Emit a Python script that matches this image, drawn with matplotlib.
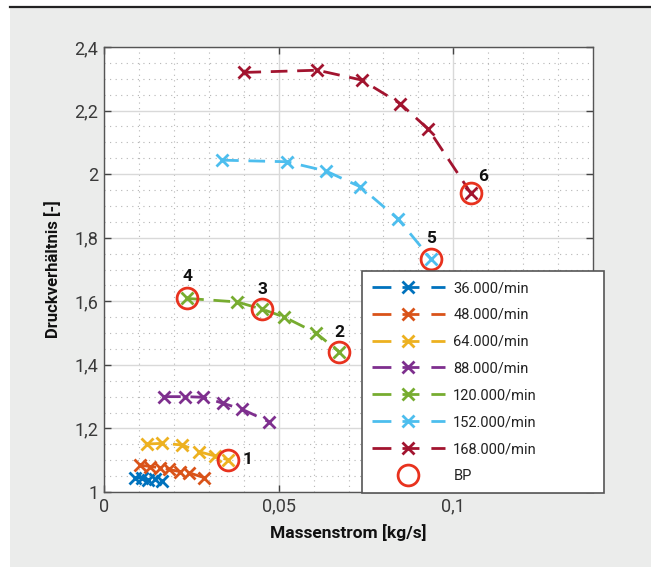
import matplotlib
matplotlib.use("Agg")
import matplotlib.pyplot as plt
from matplotlib.ticker import FuncFormatter, MultipleLocator
from matplotlib.patches import Rectangle
from matplotlib.lines import Line2D

plt.rcParams['font.family'] = ['Roboto', 'DejaVu Sans']

# ---- data ----
series_labels = ['36.000/min', '48.000/min', '64.000/min', '88.000/min',
                 '120.000/min', '152.000/min', '168.000/min']
colors = ['#0072BD', '#D95319', '#EDB120', '#7E2F8E', '#77AC30', '#4DBEEE', '#A2142F']

x_36 = [0.0088, 0.0108, 0.0125, 0.0145, 0.0166]
y_36 = [1.043, 1.045, 1.038, 1.040, 1.035]
x_48 = [0.0102, 0.0132, 0.0159, 0.0185, 0.0218, 0.0242, 0.0287]
y_48 = [1.085, 1.080, 1.077, 1.071, 1.064, 1.061, 1.045]
x_64 = [0.0122, 0.0166, 0.0224, 0.0271, 0.0319, 0.0356]
y_64 = [1.151, 1.153, 1.148, 1.127, 1.113, 1.101]
x_88 = [0.0172, 0.0233, 0.0284, 0.0341, 0.0396, 0.0472]
y_88 = [1.300, 1.300, 1.298, 1.279, 1.260, 1.221]
x_120 = [0.0238, 0.0381, 0.0453, 0.0515, 0.0606, 0.0673]
y_120 = [1.609, 1.598, 1.575, 1.551, 1.501, 1.441]
x_152 = [0.0338, 0.0523, 0.0635, 0.0734, 0.0843, 0.0937]
y_152 = [2.044, 2.039, 2.010, 1.960, 1.858, 1.732]
x_168 = [0.0402, 0.0611, 0.0738, 0.0848, 0.0929, 0.1050]
y_168 = [2.320, 2.327, 2.296, 2.222, 2.141, 1.941]

bp_x = [0.0356, 0.0673, 0.0453, 0.0238, 0.0937, 0.1050]
bp_y = [1.101, 1.441, 1.575, 1.609, 1.732, 1.941]
bp_labels = ['1', '2', '3', '4', '5', '6']

xs = [x_36, x_48, x_64, x_88, x_120, x_152, x_168]
ys = [y_36, y_48, y_64, y_88, y_120, y_152, y_168]

# ---- figure ----
W, H = 651, 567
fig = plt.figure(figsize=(W / 100, H / 100), dpi=100)
fig.patch.set_facecolor('white')
fig.patches.append(Rectangle((10 / W, 0), 1 - 10 / W, 1 - 8 / H, transform=fig.transFigure,
                             facecolor='#EBECEB', edgecolor='none', zorder=-10))
fig.lines.append(Line2D([10 / W, 1], [1 - 7.2 / H, 1 - 7.2 / H], transform=fig.transFigure,
                        color='#222222', lw=1.6, zorder=-5))

ax = fig.add_axes([104 / W, 1 - 492 / H, 489 / W, 445 / H])
ax.set_zorder(1)
ax.set_facecolor('white')

for xv, yv, c, lab in zip(xs, ys, colors, series_labels):
    ax.plot(xv, yv, linestyle=(0, (6, 3.5)), color=c, lw=2.0, marker='x',
            markersize=9, markeredgewidth=2.0, label=lab, zorder=3)

ax.plot(bp_x, bp_y, linestyle='none', marker='o', markersize=15, markerfacecolor='none',
        markeredgecolor='#E8321E', markeredgewidth=2.0, label='BP', zorder=4)

offsets = [(14, 0), (0, 14), (0, 14), (0, 16), (0, 15), (9, 12)]
for bx, by, bl, off in zip(bp_x, bp_y, bp_labels, offsets):
    ax.annotate(bl, (bx, by), xytext=off, textcoords='offset points',
                ha='center', va='center', fontsize=12.5, fontweight='bold', color='#111111')

ax.set_xlim(0, 0.14)
ax.set_ylim(1.0, 2.4)
ax.xaxis.set_major_locator(MultipleLocator(0.05))
ax.xaxis.set_minor_locator(MultipleLocator(0.01))
ax.yaxis.set_major_locator(MultipleLocator(0.2))
ax.yaxis.set_minor_locator(MultipleLocator(0.05))

def fmt(v, pos):
    s = ('%.2f' % v).rstrip('0').rstrip('.')
    return s.replace('.', ',')

ax.xaxis.set_major_formatter(FuncFormatter(fmt))
ax.yaxis.set_major_formatter(FuncFormatter(fmt))

ax.grid(which='major', color='#d9d9d9', lw=1.0, zorder=0)
ax.grid(which='minor', color='#b5b5b5', lw=0.8, linestyle=(0, (1, 4)), zorder=0)
ax.set_axisbelow(True)
ax.tick_params(which='major', direction='in', top=True, right=True, length=5,
               width=1.0, color='#444444', labelsize=13, labelcolor='#3a3a3a', pad=4)
ax.tick_params(which='minor', length=0, top=True, right=True)
for sp in ax.spines.values():
    sp.set_color('#555555')
    sp.set_linewidth(1.0)

ax.set_xlabel('Massenstrom [kg/s]', fontsize=12.5, fontweight='bold', labelpad=6, color='#111111')
ax.set_ylabel('Druckverhältnis [-]', fontsize=12, fontweight='bold', labelpad=10, color='#111111')

leg = ax.legend(loc='upper left', bbox_to_anchor=(362 / W, 1 - 272 / H, 242 / W, 0.001),
                bbox_transform=fig.transFigure, mode='expand', fontsize=10.5,
                handlelength=5.0, handletextpad=0.6, labelspacing=0.88, borderpad=0.66,
                borderaxespad=0, fancybox=False, framealpha=1, edgecolor='#555555')
leg.get_frame().set_linewidth(1.2)
for ln in leg.get_lines():
    if ln.get_linestyle() not in ('None', 'none', ''):
        ln.set_linestyle((0, (6.8, 4.0, 6.1, 4.3, 5.4, 3.6)))
for t in leg.get_texts():
    t.set_color('#222222')

fig.savefig('out.png', dpi=100)
